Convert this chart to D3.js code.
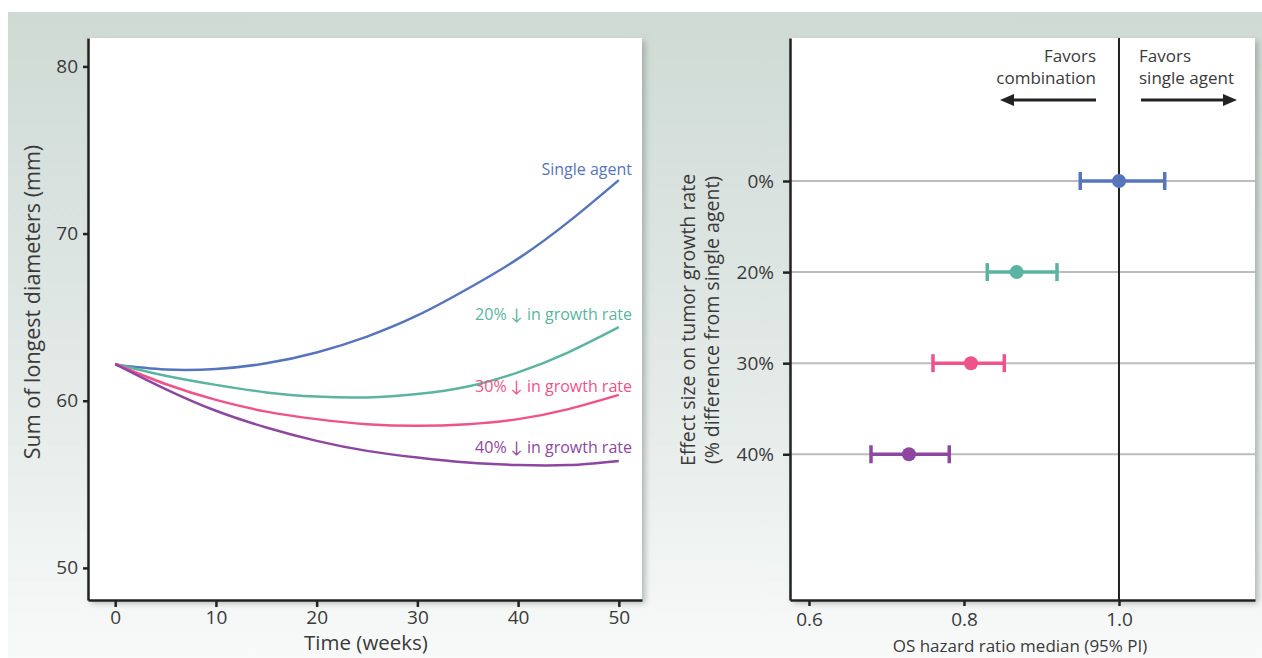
<!DOCTYPE html>
<html lang="en">
<head>
  <meta charset="UTF-8">
  <script src="https://d3js.org/d3.v7.min.js"></script>
  <title>Tumor growth and OS hazard ratio</title>
  <style>
    body { margin: 0; background: white; font-family: 'Open Sans', Lato, sans-serif; }
    text { fill: #3a3a3a; }
  </style>
</head>
<body>
  <svg id="chart" width="1262" height="658"></svg>
  <script>
    // left panel data: sum of longest diameters (mm) over time
    const weeks = [0, 5, 10, 15, 20, 25, 30, 35, 40, 45, 50];
    const singleAgent = [62.15, 61.87, 61.9, 62.24, 62.89, 63.84, 65.1, 66.7, 68.5, 70.7, 73.2];
    const growth20 = [62.2, 61.5, 60.95, 60.5, 60.25, 60.2, 60.4, 60.85, 61.7, 62.9, 64.4];
    const growth30 = [62.2, 61.0, 60.05, 59.35, 58.9, 58.6, 58.5, 58.6, 58.9, 59.5, 60.35];
    const growth40 = [62.2, 60.7, 59.4, 58.4, 57.6, 57.0, 56.6, 56.3, 56.15, 56.15, 56.4];
    const seriesLabels = ['Single agent', '20% \u2193 in growth rate', '30% \u2193 in growth rate', '40% \u2193 in growth rate'];
    const colors = ['#5675bd', '#5bb4a2', '#f0528a', '#8e47a0'];
    const xTicks = [0, 10, 20, 30, 40, 50];
    const yTicks = [50, 60, 70, 80];

    // right panel data: OS hazard ratio median and 95% PI
    const effectLabels = ['0%', '20%', '30%', '40%'];
    const hrMedian = [1.0, 0.868, 0.809, 0.729];
    const hrLow = [0.950, 0.830, 0.760, 0.680];
    const hrHigh = [1.059, 0.920, 0.852, 0.781];
    const hrTicks = [0.6, 0.8, 1.0];

    const svg = d3.select('#chart');
    const defs = svg.append('defs');

    const grad = defs.append('linearGradient').attr('id', 'bg')
      .attr('x1', 0).attr('y1', 0).attr('x2', 0).attr('y2', 1);
    grad.append('stop').attr('offset', '0%').attr('stop-color', '#cfdad5');
    grad.append('stop').attr('offset', '55%').attr('stop-color', '#e2e9e6');
    grad.append('stop').attr('offset', '100%').attr('stop-color', '#f8faf9');

    const shadow = defs.append('filter').attr('id', 'shadow')
      .attr('x', '-5%').attr('y', '-5%').attr('width', '115%').attr('height', '115%');
    shadow.append('feDropShadow').attr('dx', 3).attr('dy', 3)
      .attr('stdDeviation', 3).attr('flood-color', '#7f8c87').attr('flood-opacity', 0.6);

    svg.append('rect').attr('x', 8).attr('y', 12).attr('width', 1254).attr('height', 646)
      .attr('fill', 'url(#bg)');

    function styleAxis(a) {
      a.select('.domain').attr('stroke', '#222').attr('stroke-width', 2.5);
      a.selectAll('.tick line').attr('stroke', '#222').attr('stroke-width', 2.5);
      a.selectAll('.tick text').style('font-size', '19px')
        .style('font-family', "'Open Sans', sans-serif").attr('fill', '#3a3a3a');
    }

    // ---------- left panel ----------
    const L = { left: 88, right: 642, top: 38, bottom: 600 };
    const x1 = d3.scaleLinear().domain([-2.7, 52.3]).range([L.left, L.right]);
    const y1 = d3.scaleLinear().domain([48.08, 81.7]).range([L.bottom, L.top]);

    svg.append('rect').attr('x', L.left).attr('y', L.top)
      .attr('width', L.right - L.left).attr('height', L.bottom - L.top)
      .attr('fill', 'white').attr('filter', 'url(#shadow)');

    const left = svg.append('g');

    const xAxis1 = left.append('g').attr('transform', 'translate(0,' + L.bottom + ')')
      .call(d3.axisBottom(x1).tickValues(xTicks).tickSize(7).tickSizeOuter(0).tickPadding(4));
    const yAxis1 = left.append('g').attr('transform', 'translate(' + L.left + ',0)')
      .call(d3.axisLeft(y1).tickValues(yTicks).tickSize(5).tickSizeOuter(0).tickPadding(5));
    styleAxis(xAxis1);
    styleAxis(yAxis1);

    const line = d3.line()
      .x((d, i) => x1(weeks[i]))
      .y(d => y1(d))
      .curve(d3.curveNatural);

    const allSeries = [singleAgent, growth20, growth30, growth40];
    allSeries.forEach((s, i) => {
      left.append('path').datum(s)
        .attr('d', line)
        .attr('fill', 'none')
        .attr('stroke', colors[i])
        .attr('stroke-width', 2.5);
    });

    const labelY = [175, 320, 392, 453];
    seriesLabels.forEach((lab, i) => {
      left.append('text')
        .text(lab)
        .attr('x', 632)
        .attr('y', labelY[i])
        .attr('text-anchor', 'end')
        .style('font-size', '16px')
        .style('fill', colors[i]);
    });

    left.append('text')
      .text('Time (weeks)')
      .attr('x', 366).attr('y', 650)
      .attr('text-anchor', 'middle')
      .style('font-size', '20.5px');

    left.append('text')
      .text('Sum of longest diameters (mm)')
      .attr('transform', 'translate(40,302) rotate(-90)')
      .attr('text-anchor', 'middle')
      .style('font-size', '21.5px');

    // ---------- right panel ----------
    const R = { left: 790, right: 1255, top: 38, bottom: 600 };
    const x2 = d3.scaleLinear().domain([0.5755, 1.1755]).range([R.left, R.right]);
    const y2 = d3.scaleLinear().domain([-1.57, 4.6]).range([R.top, R.bottom]);

    svg.append('rect').attr('x', R.left).attr('y', R.top)
      .attr('width', R.right - R.left).attr('height', R.bottom - R.top)
      .attr('fill', 'white').attr('filter', 'url(#shadow)');

    const right = svg.append('g');

    // grid lines for each row
    effectLabels.forEach((lab, i) => {
      right.append('line')
        .attr('x1', R.left).attr('x2', R.right)
        .attr('y1', y2(i)).attr('y2', y2(i))
        .attr('stroke', '#bdbdbd').attr('stroke-width', 2);
    });

    // reference line at HR = 1
    right.append('line')
      .attr('x1', x2(1)).attr('x2', x2(1))
      .attr('y1', R.top).attr('y2', R.bottom)
      .attr('stroke', '#222').attr('stroke-width', 2);

    const xAxis2 = right.append('g').attr('transform', 'translate(0,' + R.bottom + ')')
      .call(d3.axisBottom(x2).tickValues(hrTicks).tickFormat(d3.format('.1f'))
        .tickSize(6).tickSizeOuter(0).tickPadding(7));
    const yAxis2 = right.append('g').attr('transform', 'translate(' + R.left + ',0)')
      .call(d3.axisLeft(y2).tickValues([0, 1, 2, 3]).tickFormat(i => effectLabels[i])
        .tickSize(7).tickSizeOuter(0).tickPadding(9));
    styleAxis(xAxis2);
    styleAxis(yAxis2);

    // interval bars and medians
    effectLabels.forEach((lab, i) => {
      const g = right.append('g').attr('stroke', colors[i]).attr('stroke-width', 3.5);
      g.append('line').attr('x1', x2(hrLow[i])).attr('x2', x2(hrHigh[i]))
        .attr('y1', y2(i)).attr('y2', y2(i));
      g.append('line').attr('x1', x2(hrLow[i])).attr('x2', x2(hrLow[i]))
        .attr('y1', y2(i) - 9).attr('y2', y2(i) + 9);
      g.append('line').attr('x1', x2(hrHigh[i])).attr('x2', x2(hrHigh[i]))
        .attr('y1', y2(i) - 9).attr('y2', y2(i) + 9);
      right.append('circle').attr('cx', x2(hrMedian[i])).attr('cy', y2(i))
        .attr('r', 7).attr('fill', colors[i]);
    });

    // favors annotations
    right.append('text').attr('x', 1096).attr('y', 62).attr('text-anchor', 'end')
      .style('font-size', '17px').text('Favors');
    right.append('text').attr('x', 1096).attr('y', 84).attr('text-anchor', 'end')
      .style('font-size', '17px').text('combination');
    right.append('text').attr('x', 1139).attr('y', 62).attr('text-anchor', 'start')
      .style('font-size', '17px').text('Favors');
    right.append('text').attr('x', 1139).attr('y', 84).attr('text-anchor', 'start')
      .style('font-size', '17px').text('single agent');

    defs.append('marker').attr('id', 'arrow')
      .attr('viewBox', '0 0 14 12').attr('refX', 0).attr('refY', 6)
      .attr('markerUnits', 'userSpaceOnUse')
      .attr('markerWidth', 14).attr('markerHeight', 12).attr('orient', 'auto')
      .append('path').attr('d', 'M0,0 L14,6 L0,12 Z').attr('fill', '#222');

    right.append('line').attr('x1', 1096).attr('x2', 1014).attr('y1', 100).attr('y2', 100)
      .attr('stroke', '#222').attr('stroke-width', 3).attr('marker-end', 'url(#arrow)');
    right.append('line').attr('x1', 1141).attr('x2', 1223).attr('y1', 100).attr('y2', 100)
      .attr('stroke', '#222').attr('stroke-width', 3).attr('marker-end', 'url(#arrow)');

    right.append('text')
      .text('OS hazard ratio median (95% PI)')
      .attr('x', 1020).attr('y', 652)
      .attr('text-anchor', 'middle')
      .style('font-size', '17px');

    right.append('text')
      .text('Effect size on tumor growth rate')
      .attr('transform', 'translate(695,320) rotate(-90)')
      .attr('text-anchor', 'middle')
      .style('font-size', '19.5px');
    right.append('text')
      .text('(% difference from single agent)')
      .attr('transform', 'translate(719,320) rotate(-90)')
      .attr('text-anchor', 'middle')
      .style('font-size', '19.5px');
  </script>
</body>
</html>
